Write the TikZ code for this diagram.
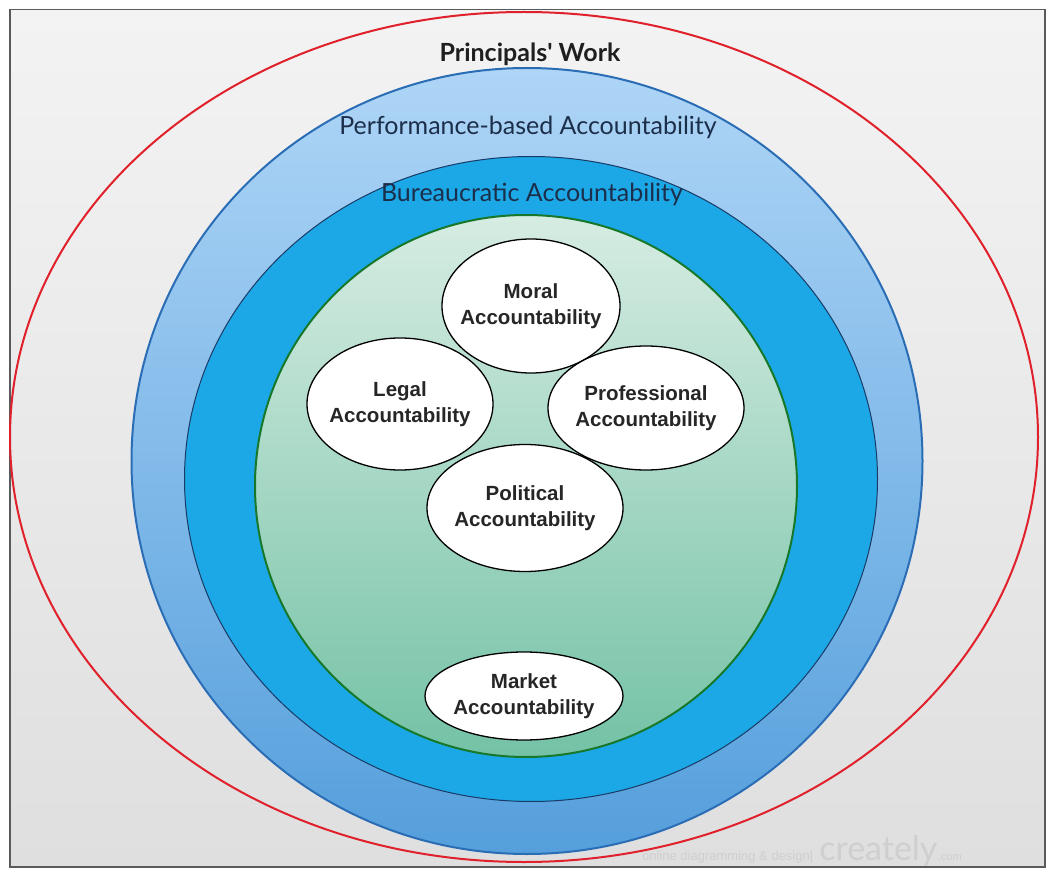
\documentclass[tikz,border=0pt]{standalone}
\usepackage{fontspec}
\setmainfont{Liberation Sans}
\newfontfamily\lato{Lato}
\newfontfamily\arialb{Liberation Sans}
\usetikzlibrary{shapes.geometric}
\definecolor{frame}{HTML}{5A5A5A}
\definecolor{bgtop}{HTML}{F3F3F3}
\definecolor{bgbot}{HTML}{DFDFDF}
\definecolor{redline}{HTML}{E0202A}
\definecolor{perftop}{HTML}{AED5F6}
\definecolor{perfbot}{HTML}{559FDC}
\definecolor{perfline}{HTML}{2A6DB5}
\definecolor{bureau}{HTML}{1CA8E6}
\definecolor{bureauline}{HTML}{1A3A66}
\definecolor{greentop}{HTML}{D6ECE2}
\definecolor{greenbot}{HTML}{74C2A6}
\definecolor{greenline}{HTML}{17782A}
\definecolor{labeltext}{HTML}{1B2E4A}
\definecolor{wm}{HTML}{CFCFCF}
\tikzset{
  ring/.style={ellipse, inner sep=0pt},
  bubble/.style={ellipse, inner sep=0pt, draw=black, line width=1.3pt, fill=white},
  bubtext/.style={inner sep=0pt, font=\arialb\bfseries\fontsize{20.5}{26}\selectfont, align=center, text=black!85},
  ringlabel/.style={font=\lato\fontsize{25}{28}\selectfont, text=labeltext, inner sep=0pt}
}
\begin{document}
\begin{tikzpicture}[x=1pt,y=-1pt]
\useasboundingbox (0,0) rectangle (1053,869);
\node[draw=frame, line width=1.5pt, top color=bgtop, bottom color=bgbot, minimum width=1035pt, minimum height=857pt, inner sep=0pt, anchor=north west] (frame) at (9,9) {};
\node[ring, draw=redline, line width=2pt, minimum width=1028pt, minimum height=850pt] (principals) at (524,437) {};
\node[ring, draw=perfline, line width=2pt, top color=perftop, bottom color=perfbot, minimum width=791pt, minimum height=786pt] (perf) at (527,461) {};
\node[ring, draw=bureauline, line width=1pt, fill=bureau, minimum width=693pt, minimum height=645pt] (bureau) at (531,479) {};
\node[ring, draw=greenline, line width=2pt, top color=greentop, bottom color=greenbot, minimum width=542pt, minimum height=542pt] (green) at (526,486) {};
\node[font=\lato\bfseries\fontsize{25}{28}\selectfont, text=black!88, inner sep=0pt] (title) at (530,54) {Principals' Work};
\node[ringlabel] (perflabel) at (528,127) {Performance-based Accountability};
\node[ringlabel] (bureaulabel) at (532,194) {Bureaucratic Accountability};
\node[bubble, minimum width=178pt, minimum height=134pt] (moral) at (531,306) {};
\node[bubble, minimum width=186pt, minimum height=132pt] (legal) at (400,404) {};
\node[bubble, minimum width=196pt, minimum height=124pt] (prof) at (646,408) {};
\node[bubble, minimum width=196pt, minimum height=127pt] (political) at (525,508) {};
\node[bubble, minimum width=198pt, minimum height=88pt] (market) at (524,696) {};
\node[bubtext] (moralt) at (moral) {Moral\\Accountability};
\node[bubtext] (legalt) at (legal) {Legal\\Accountability};
\node[bubtext] (proft) at (prof) {Professional\\Accountability};
\node[bubtext] (politicalt) at (political) {Political\\Accountability};
\node[bubtext] (markett) at (market) {Market\\Accountability};
\node[anchor=base west, inner sep=0pt, text=wm, font=\fontsize{13}{13}\selectfont] (wm1) at (642,860) {online diagramming \& design|};
\node[anchor=base west, inner sep=0pt, text=wm, font=\lato\fontsize{34}{34}\selectfont] (wm2) at (wm1.base east) {\,creately};
\node[anchor=base west, inner sep=0pt, text=wm, font=\fontsize{11}{11}\selectfont] (wm3) at (wm2.base east) {.com};
\end{tikzpicture}
\end{document}
